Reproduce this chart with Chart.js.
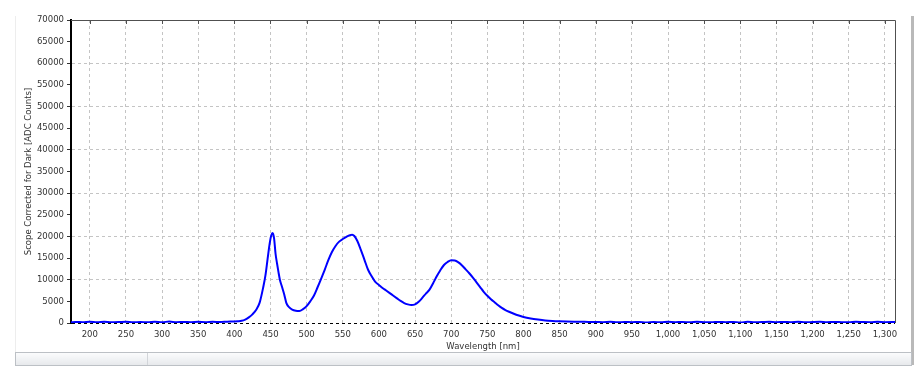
<!DOCTYPE html>
<html>
<head>
<meta charset="utf-8">
<script src="https://cdn.jsdelivr.net/npm/chart.js@4"></script>
<style>
    html, body { margin: 0; padding: 0; background: #fff; }
    #wrap { position: relative; width: 922px; height: 375px; overflow: hidden; }
    #wrap canvas { position: absolute; left: 0; top: 0; }
    .leftLine { position: absolute; left: 15px; top: 16px; width: 1px; height: 336px; background: #ededed; }
    .rightBar { position: absolute; left: 911px; top: 16px; width: 3px; height: 349px; background: #b9b9b9; }
    .strip {
        position: absolute; left: 15px; top: 352px; width: 895px; height: 12px;
        background: linear-gradient(#fbfcfd, #e7e9ec);
        border: 1px solid #bcc0c5;
    }
    .strip .div { position: absolute; left: 131px; top: 0; width: 1px; height: 12px; background: #d2d5d9; }
</style>
</head>
<body>
<div id="wrap">
    <canvas id="spectrumChart"></canvas>
    <div class="leftLine"></div>
    <div class="rightBar"></div>
    <div class="strip"><div class="div"></div></div>
</div>

<script>
// ─────────────────────────────────────────────
// DATA
// ─────────────────────────────────────────────
const wavelengths = [
    174, 180, 190, 200, 210, 220, 230, 240, 250, 260, 270, 280, 290, 300,
    310, 320, 330, 340, 350, 360, 370, 380, 390, 400, 405, 410, 415, 420,
    425, 430, 435, 440, 443, 446, 449, 451, 453, 455, 457, 459, 461, 463,
    466, 469, 472, 476, 480, 485, 490, 495, 500, 505, 510, 515, 520, 525,
    530, 535, 540, 545, 550, 555, 560, 563, 566, 570, 575, 580, 585, 590,
    595, 600, 605, 610, 615, 620, 625, 630, 635, 640, 645, 650, 655, 660,
    665, 670, 675, 680, 685, 690, 695, 700, 705, 710, 715, 720, 725, 730,
    735, 740, 745, 750, 755, 760, 765, 770, 775, 780, 790, 800, 810, 820,
    830, 840, 850, 860, 870, 880, 890, 900, 910, 920, 930, 940, 950, 960,
    970, 980, 990, 1000, 1010, 1020, 1030, 1040, 1050, 1060, 1070, 1080,
    1090, 1100, 1110, 1120, 1130, 1140, 1150, 1160, 1170, 1180, 1190, 1200,
    1210, 1220, 1230, 1240, 1250, 1260, 1270, 1280, 1290, 1300, 1314
];

const counts = [
    150, 250, 180, 300, 150, 260, 180, 220, 300, 160, 240, 150, 280, 200,
    320, 180, 250, 200, 260, 190, 280, 230, 300, 350, 400, 500, 800, 1300,
    2000, 3000, 4700, 8300, 11000, 14800, 18500, 20200, 20800, 19500, 16000, 13800, 11800, 10000,
    8300, 6600, 4600, 3600, 3100, 2850, 2800, 3200, 3900, 5000, 6300, 8200, 10200, 12300,
    14500, 16400, 17800, 18800, 19400, 19900, 20300, 20400, 20100, 19000, 16900, 14600, 12300, 10800,
    9500, 8800, 8100, 7500, 6900, 6300, 5700, 5100, 4600, 4300, 4150, 4300, 4900, 5800,
    6800, 7700, 9200, 10800, 12200, 13400, 14100, 14500, 14450, 14000, 13300, 12400, 11500, 10500,
    9400, 8300, 7200, 6300, 5500, 4800, 4100, 3500, 3000, 2600, 1900, 1400, 1050, 800,
    600, 480, 400, 340, 300, 280, 250, 240, 200, 260, 150, 230, 180, 250,
    140, 220, 170, 260, 190, 240, 150, 270, 200, 160, 250, 190, 230, 140,
    260, 180, 220, 300, 170, 240, 190, 260, 150, 230, 280, 180, 250, 200,
    160, 270, 210, 180, 260, 190, 240, 170, 280, 220, 200
];

const xTicks = [
    200, 250, 300, 350, 400, 450, 500, 550, 600, 650, 700, 750, 800, 850,
    900, 950, 1000, 1050, 1100, 1150, 1200, 1250, 1300
];

const yTicks = [
    0, 5000, 10000, 15000, 20000, 25000, 30000, 35000,
    40000, 45000, 50000, 55000, 60000, 65000, 70000
];


// ─────────────────────────────────────────────
// PLOT FRAME (top / right border + inward top ticks)
// ─────────────────────────────────────────────
const frame = {
    id: 'frame',
    beforeDatasetsDraw(chart) {
        const { ctx, chartArea: a, scales } = chart;
        ctx.save();
        ctx.strokeStyle = '#505050';
        ctx.lineWidth = 1;
        ctx.beginPath();
        ctx.moveTo(a.left, a.top + 0.5);
        ctx.lineTo(a.right + 0.5, a.top + 0.5);
        ctx.lineTo(a.right + 0.5, a.bottom);
        xTicks.forEach(v => {
            const x = Math.round(scales.x.getPixelForValue(v)) + 0.5;
            ctx.moveTo(x, a.top);
            ctx.lineTo(x, a.top + 4);
        });
        ctx.stroke();
        ctx.restore();
    }
};

const font = { family: 'DejaVu Sans', size: 8.5 };

new Chart(document.getElementById('spectrumChart'), {
    type: 'line',
    data: {
        datasets: [{
            data: wavelengths.map((w, i) => ({ x: w, y: counts[i] })),
            borderColor: 'rgb(0, 0, 255)',
            borderWidth: 2,
            pointRadius: 0,
            cubicInterpolationMode: 'monotone',
            fill: false
        }]
    },
    options: {
        responsive: true,
        maintainAspectRatio: false,
        animation: false,
        layout: { padding: { left: 23, top: 20, right: 27, bottom: 22 } },
        plugins: {
            legend: { display: false },
            tooltip: { enabled: false }
        },
        scales: {
            x: {
                type: 'linear',
                min: 174,
                max: 1314,
                afterFit: s => { s.height = 30; },
                afterBuildTicks: s => { s.ticks = xTicks.map(v => ({ value: v })); },
                ticks: {
                    font: font,
                    color: '#333',
                    padding: 3,
                    maxRotation: 0,
                    autoSkip: false,
                    callback: v => v.toLocaleString('en-US')
                },
                grid: {
                    color: '#c4c4c4',
                    tickColor: 'transparent',
                    tickLength: 4
                },
                border: { display: false, dash: [3, 3] },
                title: {
                    display: true,
                    text: 'Wavelength [nm]',
                    font: font,
                    color: '#333',
                    padding: { top: 0, bottom: 1 }
                }
            },
            y: {
                min: 0,
                max: 70000,
                afterFit: s => { s.width = 48; },
                afterBuildTicks: s => { s.ticks = yTicks.map(v => ({ value: v })); },
                ticks: {
                    font: font,
                    color: '#333',
                    padding: 3,
                    autoSkip: false,
                    callback: v => String(v)
                },
                grid: {
                    color: c => c.tick.value === 0 ? '#000'
                        : (c.tick.value % 10000 === 0 ? '#c4c4c4' : 'transparent'),
                    tickColor: '#333',
                    tickLength: 4
                },
                border: { display: true, color: '#000', width: 2, dash: [3, 3] },
                title: {
                    display: true,
                    text: 'Scope Corrected for Dark [ADC Counts]',
                    font: font,
                    color: '#333',
                    padding: { top: 1, bottom: 0 }
                }
            }
        }
    },
    plugins: [frame]
});
</script>
</body>
</html>
